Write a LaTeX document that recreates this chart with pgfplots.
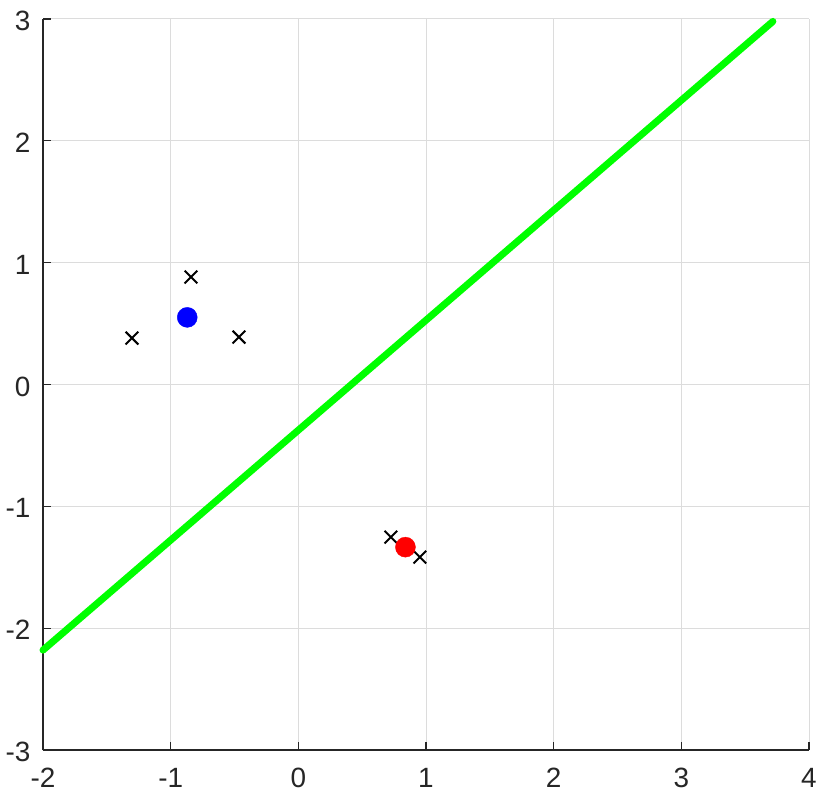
\documentclass[border=0pt]{standalone}
\usepackage{pgfplots}
\pgfplotsset{compat=1.18}
\usepackage{fontspec}
\setmainfont{Liberation Sans}
\usetikzlibrary{calc}
\definecolor{axgray}{RGB}{38,38,38}
\definecolor{gridgray}{RGB}{220,220,220}
\begin{document}
\begin{tikzpicture}[x=1bp,y=1bp]
\begin{axis}[
  width=766bp, height=731bp, scale only axis,
  xmin=-2, xmax=4, ymin=-3, ymax=3,
  xtick={-2,...,4}, ytick={-3,...,3},
  axis x line=bottom, axis y line=left,
  axis line style={draw=axgray, line width=1.3bp, -},
  tick align=inside, major tick length=8bp,
  tick style={draw=axgray, line width=1.1bp},
  grid=major, major grid style={draw=gridgray, line width=1bp},
  ticklabel style={font=\fontsize{28}{31}\selectfont, text=axgray},
  /pgf/number format/assume math mode=true,
  xticklabel style={yshift=-15bp},
  yticklabel style={xshift=-9bp, yshift=-2bp},
  clip=false,
]
\addplot[draw=green, line width=7bp, line cap=round] coordinates {(-2,-2.18) (3.717,2.98)};
\addplot[only marks, mark=x, mark size=9bp, mark options={draw=black, line width=2bp}]
  coordinates {(-0.841,0.882) (-1.303,0.381) (-0.465,0.389) (0.725,-1.253) (0.952,-1.417)};
\addplot[only marks, mark=*, mark size=10bp, mark options={draw=blue, fill=blue}]
  coordinates {(-0.870,0.551)};
\addplot[only marks, mark=*, mark size=10bp, mark options={draw=red, fill=red}]
  coordinates {(0.839,-1.335)};
\end{axis}
\path ($(current axis.south west)+(-43bp,-51bp)$) rectangle ($(current axis.north east)+(20bp,19bp)$);
\end{tikzpicture}
\end{document}
